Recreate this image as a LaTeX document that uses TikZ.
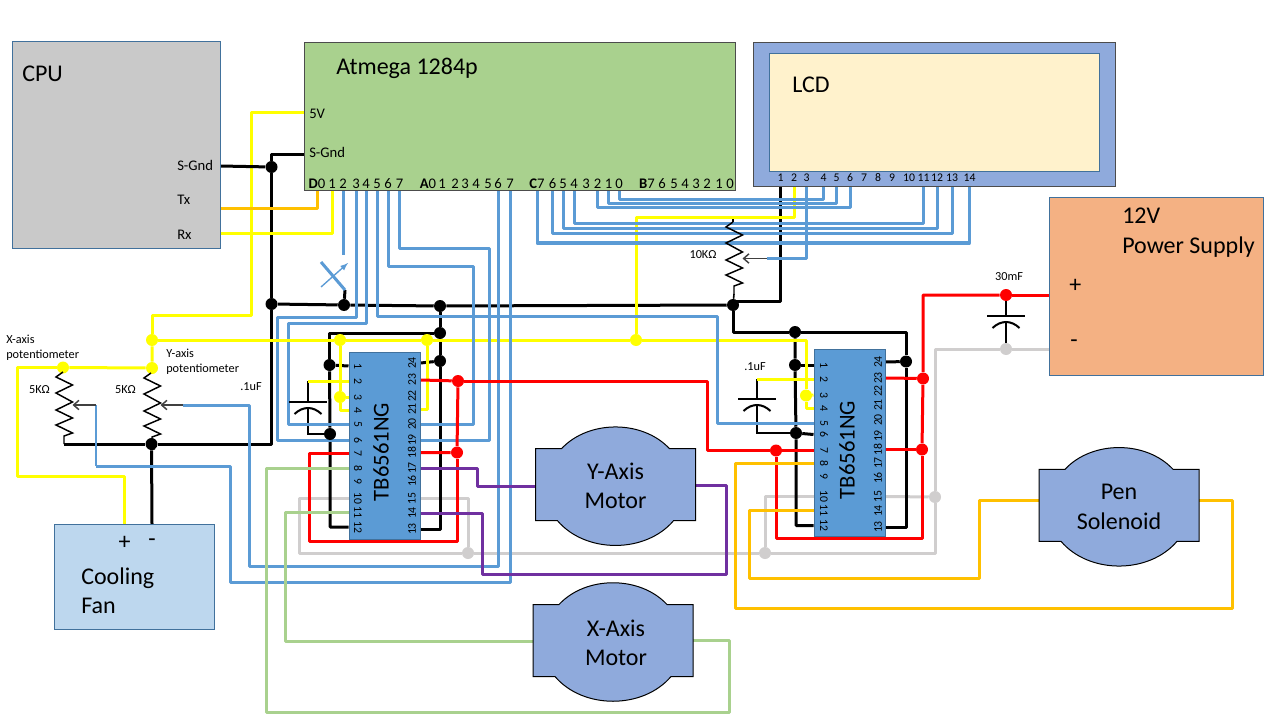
\documentclass[tikz,border=0pt]{standalone}
\usepackage{fontspec}
\setmainfont[Numbers=Lining]{Carlito}
\usetikzlibrary{positioning,arrows.meta,backgrounds}
\definecolor{wblue}{HTML}{5B9BD5}
\definecolor{wyellow}{HTML}{FFFF00}
\definecolor{worange}{HTML}{FFC000}
\definecolor{wred}{HTML}{FF0000}
\definecolor{wgreen}{HTML}{A9D18E}
\definecolor{wgray}{HTML}{D0CECE}
\definecolor{wpurple}{HTML}{7030A0}
\definecolor{edgeblue}{HTML}{41719C}
\definecolor{wmotor}{HTML}{8FAADC}
\tikzset{
  wire/.style={line width=2.25pt, line join=round},
  thinwire/.style={line width=1.2pt, line join=round},
  dot/.style={circle, inner sep=0pt, minimum size=9pt},
  box/.style={rectangle, draw=edgeblue, line width=.75pt, inner sep=0pt},
  chipbox/.style={box, fill=wblue, minimum width=53.25pt, minimum height=140.25pt},
  lbl/.style={inner sep=0pt, anchor=west},
  bigtext/.style={font=\fontsize{18}{22}\selectfont},
  midtext/.style={font=\fontsize{11}{13}\selectfont},
  smalltext/.style={font=\fontsize{9.2}{11.2}\selectfont},
  pinnum/.style={inner sep=0pt, font=\fontsize{8.8}{10}\selectfont},
  wiper/.style={line width=1.1pt, draw={black!75}, -{Straight Barb[length=4pt,width=7pt]}},
  resistor/.pic={
    \draw[line width=1.1pt, line join=miter] (0,0)--(-7,5)--(9.5,13)--(-7,21)--(9.5,30)--(-7,38)--(9.5,46)--(-7,53)--(9.5,61)--(1,64)--(1,72);
    \coordinate (-top) at (0,0);
    \coordinate (-wiper) at (9.5,33);
    \coordinate (-end) at (1,72);
  },
  capacitor/.pic={
    \draw[line width=1.5pt] (-19,0)--(19,0);
    \draw[line width=1.5pt] (-13.5,12) .. controls (-5,4) and (5,4) .. (13.5,12);
    \coordinate (-top) at (0,0);
    \coordinate (-bot) at (0,6);
  },
  motorbody/.pic={
    \draw[fill=wmotor, line width=.75pt] (-80,-36)--(-54,-36) .. controls (-27,-65) and (27,-65) .. (54,-36)--(80,-36)--(80,36)--(58,36) .. controls (30,69) and (-30,69) .. (-58,36)--(-80,36)--cycle;
  }
}
\begin{document}
\begin{tikzpicture}[x=.75pt,y=-.75pt]
\useasboundingbox (0,0) rectangle (1280,720);
% Boxes
\node[box, fill={rgb,255:red,201;green,201;blue,201}, minimum width=156pt, minimum height=154.5pt] (cpu) at (116,145) {};
\node[box, draw=black!70, fill=wgreen, minimum width=323.25pt, minimum height=111pt] (atmega) at (519.5,117) {};
\node[box, draw=black!70, fill=wmotor, minimum width=271.5pt, minimum height=108pt] (lcd) at (934,115) {};
\node[box, fill={rgb,255:red,255;green,242;blue,204}, minimum width=247.5pt, minimum height=88.5pt] (lcdin) at (934,113) {};
\node[box, fill={rgb,255:red,244;green,177;blue,131}, minimum width=160.5pt, minimum height=132.75pt] (pwr) at (1156,286.5) {};
\node[box, fill={rgb,255:red,189;green,215;blue,238}, minimum width=120pt, minimum height=79pt] (fan) at (134.3,577) {};
\node[chipbox] (ua) at (384.5,445.5) {};
\node[chipbox] (ub) at (849.5,442.5) {};
% Motors
\pic at (615.5,484.7) {motorbody};
\pic at (613,640.5) {motorbody};
\pic at (1119,505.3) {motorbody};
\node[bigtext, align=center, inner sep=0pt] (ym) at (615.5,485.5) {Y-Axis\\Motor};
\node[bigtext, align=center, inner sep=0pt] (xm) at (616,642.5) {X-Axis\\Motor};
\node[bigtext, align=center, inner sep=0pt] (pen) at (1119,507) {Pen\\Solenoid};
% Text nodes
\node[lbl, bigtext] (cputxt) at (22,74) {CPU};
\node[lbl, bigtext] (atxt) at (336,68) {Atmega 1284p};
\node[lbl, bigtext] (lcdtxt) at (792,85) {LCD};
\node[lbl, bigtext, align=left] (pwrtxt) at (1122,232.5) {12V\\Power Supply};
\node[lbl, bigtext] (pplus) at (1069,286) {+};
\node[lbl, bigtext] (pminus) at (1070,344) {-};
\node[lbl, bigtext, align=left] (fantxt) at (81,591) {Cooling\\Fan};
\node[bigtext, inner sep=0pt] (fplus) at (124.5,543) {+};
\node[bigtext, inner sep=0pt] (fminus) at (152,543) {-};
\node[lbl, midtext] (v5) at (309,114) {5V};
\node[lbl, midtext] (sgnd) at (309,152) {S-Gnd};
\node[lbl, midtext] (cgndtxt) at (177,165) {S-Gnd};
\node[lbl, midtext] (txtxt) at (177,200) {Tx};
\node[lbl, midtext] (rxtxt) at (177,235) {Rx};
\node[lbl, smalltext, align=left] (xpot) at (6,347.5) {X-axis\\potentiometer};
\node[lbl, smalltext, align=left] (ypot) at (166,361.5) {Y-axis\\potentiometer};
\node[smalltext, inner sep=0pt] (rxv) at (39.5,389.5) {5KΩ};
\node[smalltext, inner sep=0pt] (ryv) at (125.5,389.5) {5KΩ};
\node[smalltext, inner sep=0pt] (rlv) at (703,255) {10KΩ};
\node[smalltext, inner sep=0pt] (cav) at (251,387) {.1uF};
\node[smalltext, inner sep=0pt] (cbv) at (755,367) {.1uF};
\node[smalltext, inner sep=0pt] (ccv) at (1009,277) {30mF};
\node[rotate=90, inner sep=0pt, font=\fontsize{17}{20}\selectfont] (tba) at (381,452) {TB6561NG};
\node[rotate=90, inner sep=0pt, font=\fontsize{17}{20}\selectfont] (tbb) at (847,450) {TB6561NG};
% Atmega pins
\node[midtext, inner sep=0pt] (d0) at (317,184) {\textbf{D}0};
\foreach \n/\x in {1/332,2/343,3/356,4/366,5/377,6/388,7/399.5}
  \node[midtext, inner sep=0pt] (d\n) at (\x,184) {\n};
\node[midtext, inner sep=0pt] (a0) at (428,184) {\textbf{A}0};
\foreach \n/\x in {1/442,2/455,3/465,4/476,5/488,6/498,7/510}
  \node[midtext, inner sep=0pt] (a\n) at (\x,184) {\n};
\node[midtext, inner sep=0pt] (c7) at (537,184) {\textbf{C}7};
\foreach \n/\x in {6/552.5,5/563,4/574,3/586,2/597.5,1/608.5,0/619}
  \node[midtext, inner sep=0pt] (c\n) at (\x,184) {\n};
\node[midtext, inner sep=0pt] (b7) at (647,184) {\textbf{B}7};
\foreach \n/\x in {6/662,5/674,4/685,3/696,2/707,1/719,0/730}
  \node[midtext, inner sep=0pt] (b\n) at (\x,184) {\n};
% LCD pins
\foreach \n/\x in {1/780.5,2/794,3/806.5,4/823.5,5/836.5,6/850,7/864,8/878,9/892,10/909,11/923.5,12/937,13/952,14/969.5}
  \node[pinnum] (l\n) at (\x,178) {\n};
% Chip pins
\foreach \n/\y in {1/366,2/381,3/397,4/410,5/424,6/440,7/453,8/468,9/481,10/498,11/512,12/527}
  \node[pinnum, rotate=-90] (ua\n) at (358,\y) {\n};
\foreach \n/\y in {24/363,23/380,22/396,21/409,20/424,19/440,18/452.5,17/468,16/481,15/498.5,14/513,13/529}
  \node[pinnum, rotate=90] (ua\n) at (412,\y) {\n};
\foreach \n/\y in {1/365,2/379,3/395,4/408,5/423,6/434.5,7/450.5,8/463,9/476,10/496,11/510,12/525.5}
  \node[pinnum, rotate=-90] (ub\n) at (824,\y) {\n};
\foreach \n/\y in {24/362,23/378,22/391,21/405,20/420,19/436,18/449.5,17/463,16/478,15/496.5,14/511,13/527}
  \node[pinnum, rotate=90] (ub\n) at (878,\y) {\n};
% Black dots
\foreach \name/\pos in {gs/{271.5,167},gm/{271.5,304},gx/{344,305},gu/{440,306},gv/{440,333},gw/{440,361},ga/{329.5,365},gb/{330,434},gp/{151.5,444},gr/{733,305},hv/{795,332},ha/{795,365},hb/{796,433},hw/{906,361.5}}
  \node[dot, fill=black] (\name) at (\pos) {};
% Yellow dots
\foreach \name/\pos in {ys/{152,340},yp/{152,368},yx/{63,367.5},ya/{340,340},yb/{427,340},yc/{636,340},yd/{340,397},he/{806,395.5}}
  \node[dot, fill=wyellow] (\name) at (\pos) {};
% Red dots
\foreach \name/\pos in {ra/{458,381},rb/{457,452.5},sa/{776,450.5},sb/{923,378.5},sc/{922,449.5},sd/{1006,295}}
  \node[dot, fill=wred] (\name) at (\pos) {};
% Gray dots
\foreach \name/\pos in {ka/{468,553},kb/{765,553},kc/{935,497},kd/{1006,349}}
  \node[dot, fill=wgray] (\name) at (\pos) {};
% Resistors and capacitors
\pic (rx) at (63,372) {resistor};
\pic (ry) at (151,373) {resistor};
\pic (rl) at (733,222) {resistor};
\pic (ca) at (308,402) {capacitor};
\pic (cb) at (757,399) {capacitor};
\pic (cc) at (1006,316) {capacitor};
% Free wire ends
\coordinate (cgnd) at (220,166);
\coordinate (ctx) at (220,208.5);
\coordinate (crx) at (220,234);
\coordinate (agnd) at (304,155);
\coordinate (av) at (304,113);
\coordinate (vt0) at (343,255);
\coordinate (vt1) at (321,262);
\coordinate (vt2) at (345,290);
\coordinate (vt3) at (321,287);
\coordinate (vt4) at (348,263);
\coordinate (wx) at (96,405);
\coordinate (wz) at (96,466);
\coordinate (wy) at (183,405);
\coordinate (wl) at (767,258.5);
\coordinate (ltop) at (733,217);
\coordinate (pl) at (1039,500.5);
\coordinate (pr) at (1199,500.5);
\coordinate (ml) at (535,486.5);
\coordinate (mr) at (695,485);
\coordinate (xl) at (533,641);
\coordinate (xr) at (693,640);
\coordinate (yca) at (308,381);
\coordinate (ycb) at (757,379);
% Wires
\begin{scope}[on background layer]
\fill[white] (0,0) rectangle (1280,720);
% Gray
\draw[wire, wgray] (ua.west |- ua10) -| (299,553) -- (ka);
\draw[wire, wgray] (ka) |- (ua.east |- ua15);
\draw[wire, wgray] (ka) -- (kb);
\draw[wire, wgray] (kb) |- (ub.west |- ub10);
\draw[wire, wgray] (kb) -| (kc);
\draw[wire, wgray] (kc) -- (ub.east |- ub15);
\draw[wire, wgray] (kc) |- (kd);
\draw[wire, wgray] (kd) -- (kd -| pwr.west);
% Black
\draw[wire] (agnd) -| (gs);
\draw[wire] (gs) -- (gm);
\draw[wire] (gm) |- (gp);
\draw[wire] (gp) -| (rx-end);
\draw[wire] (gp) -- (fminus |- fan.north);
\draw[thinwire] (ry-end) -- (gp);
\draw[wire] (gm) -- (gx) -- (gu) -- (gr);
\draw[wire] (gu) -- (gv) -- (gw) |- (ua.east |- ua13);
\draw[wire] (gw) -- (ua.east |- ua24);
\draw[wire] (gv) -| (ga);
\draw[wire] (ga) -- (gb) |- (ua.west |- ua12);
\draw[wire] (ga) -- (ua.west |- ua1);
\draw[wire] (vt2) -- (gx);
\draw[wire] (l1 |- lcd.south) |- ([yshift=3pt]gr.center);
\draw[thinwire] (rl-end) -- (gr);
\draw[thinwire] (rl-top) -- (ltop);
\draw[wire] (gr) |- (hv);
\draw[wire] (hv) -| (hw);
\draw[wire] (hw) |- (ub.east |- ub13);
\draw[wire] (hw) -- (ub.east |- ub24);
\draw[wire] (hv) -- (ha) -- (hb) |- (ub.west |- ub12);
\draw[wire] (ha) -- (ub.west |- ub1);
\draw[wire] (hb) -- (ub.west |- ub6);
\draw[line width=1.5pt] (yca) -- (ca-top);
\draw[line width=1.5pt] (ycb) -- (cb-top);
\draw[line width=1.5pt] (ca-bot) |- (gb);
\draw[line width=1.5pt] (cb-bot) |- (hb);
\draw[line width=1.5pt] (sd) -- (cc-top);
\draw[line width=1.5pt] (cc-bot) -- (kd);
% Blue
\draw[wire, wblue] (d3 |- atmega.south) |- (277,317) |- (ua.west |- ua6);
\draw[wire, wblue] (d4 |- atmega.south) |- (288,323) |- (ua.west |- ua5);
\draw[wire, wblue] (d2 |- atmega.south) -- (vt0);
\draw[wire, wblue] (vt1) -- (vt2);
\draw[line width=1pt, wblue, -latex] (vt3) -- (vt4);
% Yellow
\draw[wire, wyellow] (av) -| (251,315) -| (ys);
\draw[wire, wyellow] (ys) -- (yp) -- (yx);
\draw[wire, wyellow] (yx) -| (17,476) -| (fplus |- fan.north);
\draw[wire, wyellow] (ys) -- (ya) -- (yb) -- (yc);
\draw[wire, wyellow] (ya) -- (yd) -- (ua.west |- ua3);
\draw[wire, wyellow] (yd) |- (ua.west |- ua4);
\draw[wire, wyellow] (yb) |- (ua.east |- ua21);
\draw[wire, wyellow] (ua.west |- ua2) -- (yca);
\draw[wire, wyellow] (ub.west |- ub2) -- (ycb);
\draw[wire, wyellow] (yc) -| (he);
\draw[wire, wyellow] (he) -- (ub.west |- ub3);
\draw[wire, wyellow] (he) |- (ub.west |- ub4);
\draw[wire, wyellow] (yc) |- (794,217.5) -- (l2 |- lcd.south);
\draw[wire, wyellow] (crx) -| (d1 |- atmega.south);
\draw[wire, worange] (ctx) -| (d0 |- atmega.south);
\draw[wire] (cgnd) -- (gs);
% Blue, over the yellow
\draw[wire, wblue] (d5 |- atmega.south) |- (717,316) |- (ub.west |- ub5);
\draw[wire, wblue] (d6 |- atmega.south) |- (473,266) |- (ua.east |- ua20);
\draw[wire, wblue] (d7 |- atmega.south) |- (489,248) |- (ua.east |- ua19);
\draw[wire, wblue] (a6 |- atmega.south) |- (249,566) |- (wy);
\draw[wire, wblue] (a7 |- atmega.south) |- (230,582) |- (wz);
\draw[line width=1pt, wblue] (wz) -- (wx);
\draw[wire, wblue] (c7 |- atmega.south) |- (969.5,243) -- (l14 |- lcd.south);
\draw[wire, wblue] (c6 |- atmega.south) |- (952,234) -- (l13 |- lcd.south);
\draw[wire, wblue] (c5 |- atmega.south) |- (937,228.5) -- (l12 |- lcd.south);
\draw[wire, wblue] (c4 |- atmega.south) |- (923.5,224) -- (l11 |- lcd.south);
\draw[wire, wblue] (c2 |- atmega.south) |- (850,208) -- (l6 |- lcd.south);
\draw[wire, wblue] (c1 |- atmega.south) |- (836.5,204) -- (l5 |- lcd.south);
\draw[wire, wblue] (c0 |- atmega.south) |- (823.5,200) -- (l4 |- lcd.south);
\draw[wire, wblue] (l3 |- lcd.south) |- (wl);
% Red
\draw[wire, wred] (ua.east |- ua23) -- (ra);
\draw[wire, wred] (ra) -- (rb) -- (ua.east |- ua18);
\draw[wire, wred] (rb) |- (309,541) |- (ua.west |- ua7);
\draw[wire, wred] (ra) -| (707,450.5) -- (sa);
\draw[wire, wred] (sa) -- (ub.west |- ub7);
\draw[wire, wred] (sa) |- (922,538) -- (sc);
\draw[wire, wred] (sc) -- (sb) |- (sd);
\draw[wire, wred] (sb) -- (ub.east |- ub23);
\draw[wire, wred] (sc) -- (ub.east |- ub18);
\draw[wire, wred] (sd) -- (sd -| pwr.west);
% Green
\draw[wire, wgreen] (ua.west |- ua8) -| (266,712) -| (729,640) -- (xr);
\draw[wire, wgreen] (ua.west |- ua11) -| (285,641) -- (xl);
% Purple
\draw[wire, wpurple] (ua.east |- ua17) -| (477,486.5) -- (ml);
\draw[wire, wpurple] (ua.east |- ua14) -| (482,574) -| (726,485) -- (mr);
% Orange
\draw[wire, worange] (ub.west |- ub8) -| (735.5,608) -| (1232,500.5) -- (pr);
\draw[wire, worange] (ub.west |- ub11) -| (749,578) -| (979.5,500.5) -- (pl);
\end{scope}
% Wiper arrows
\draw[wiper] (wx) -- (wx -| rx-wiper);
\draw[wiper] (wy) -- (wy -| ry-wiper);
\draw[wiper] (wl) -- (wl -| rl-wiper);
\end{tikzpicture}
\end{document}
